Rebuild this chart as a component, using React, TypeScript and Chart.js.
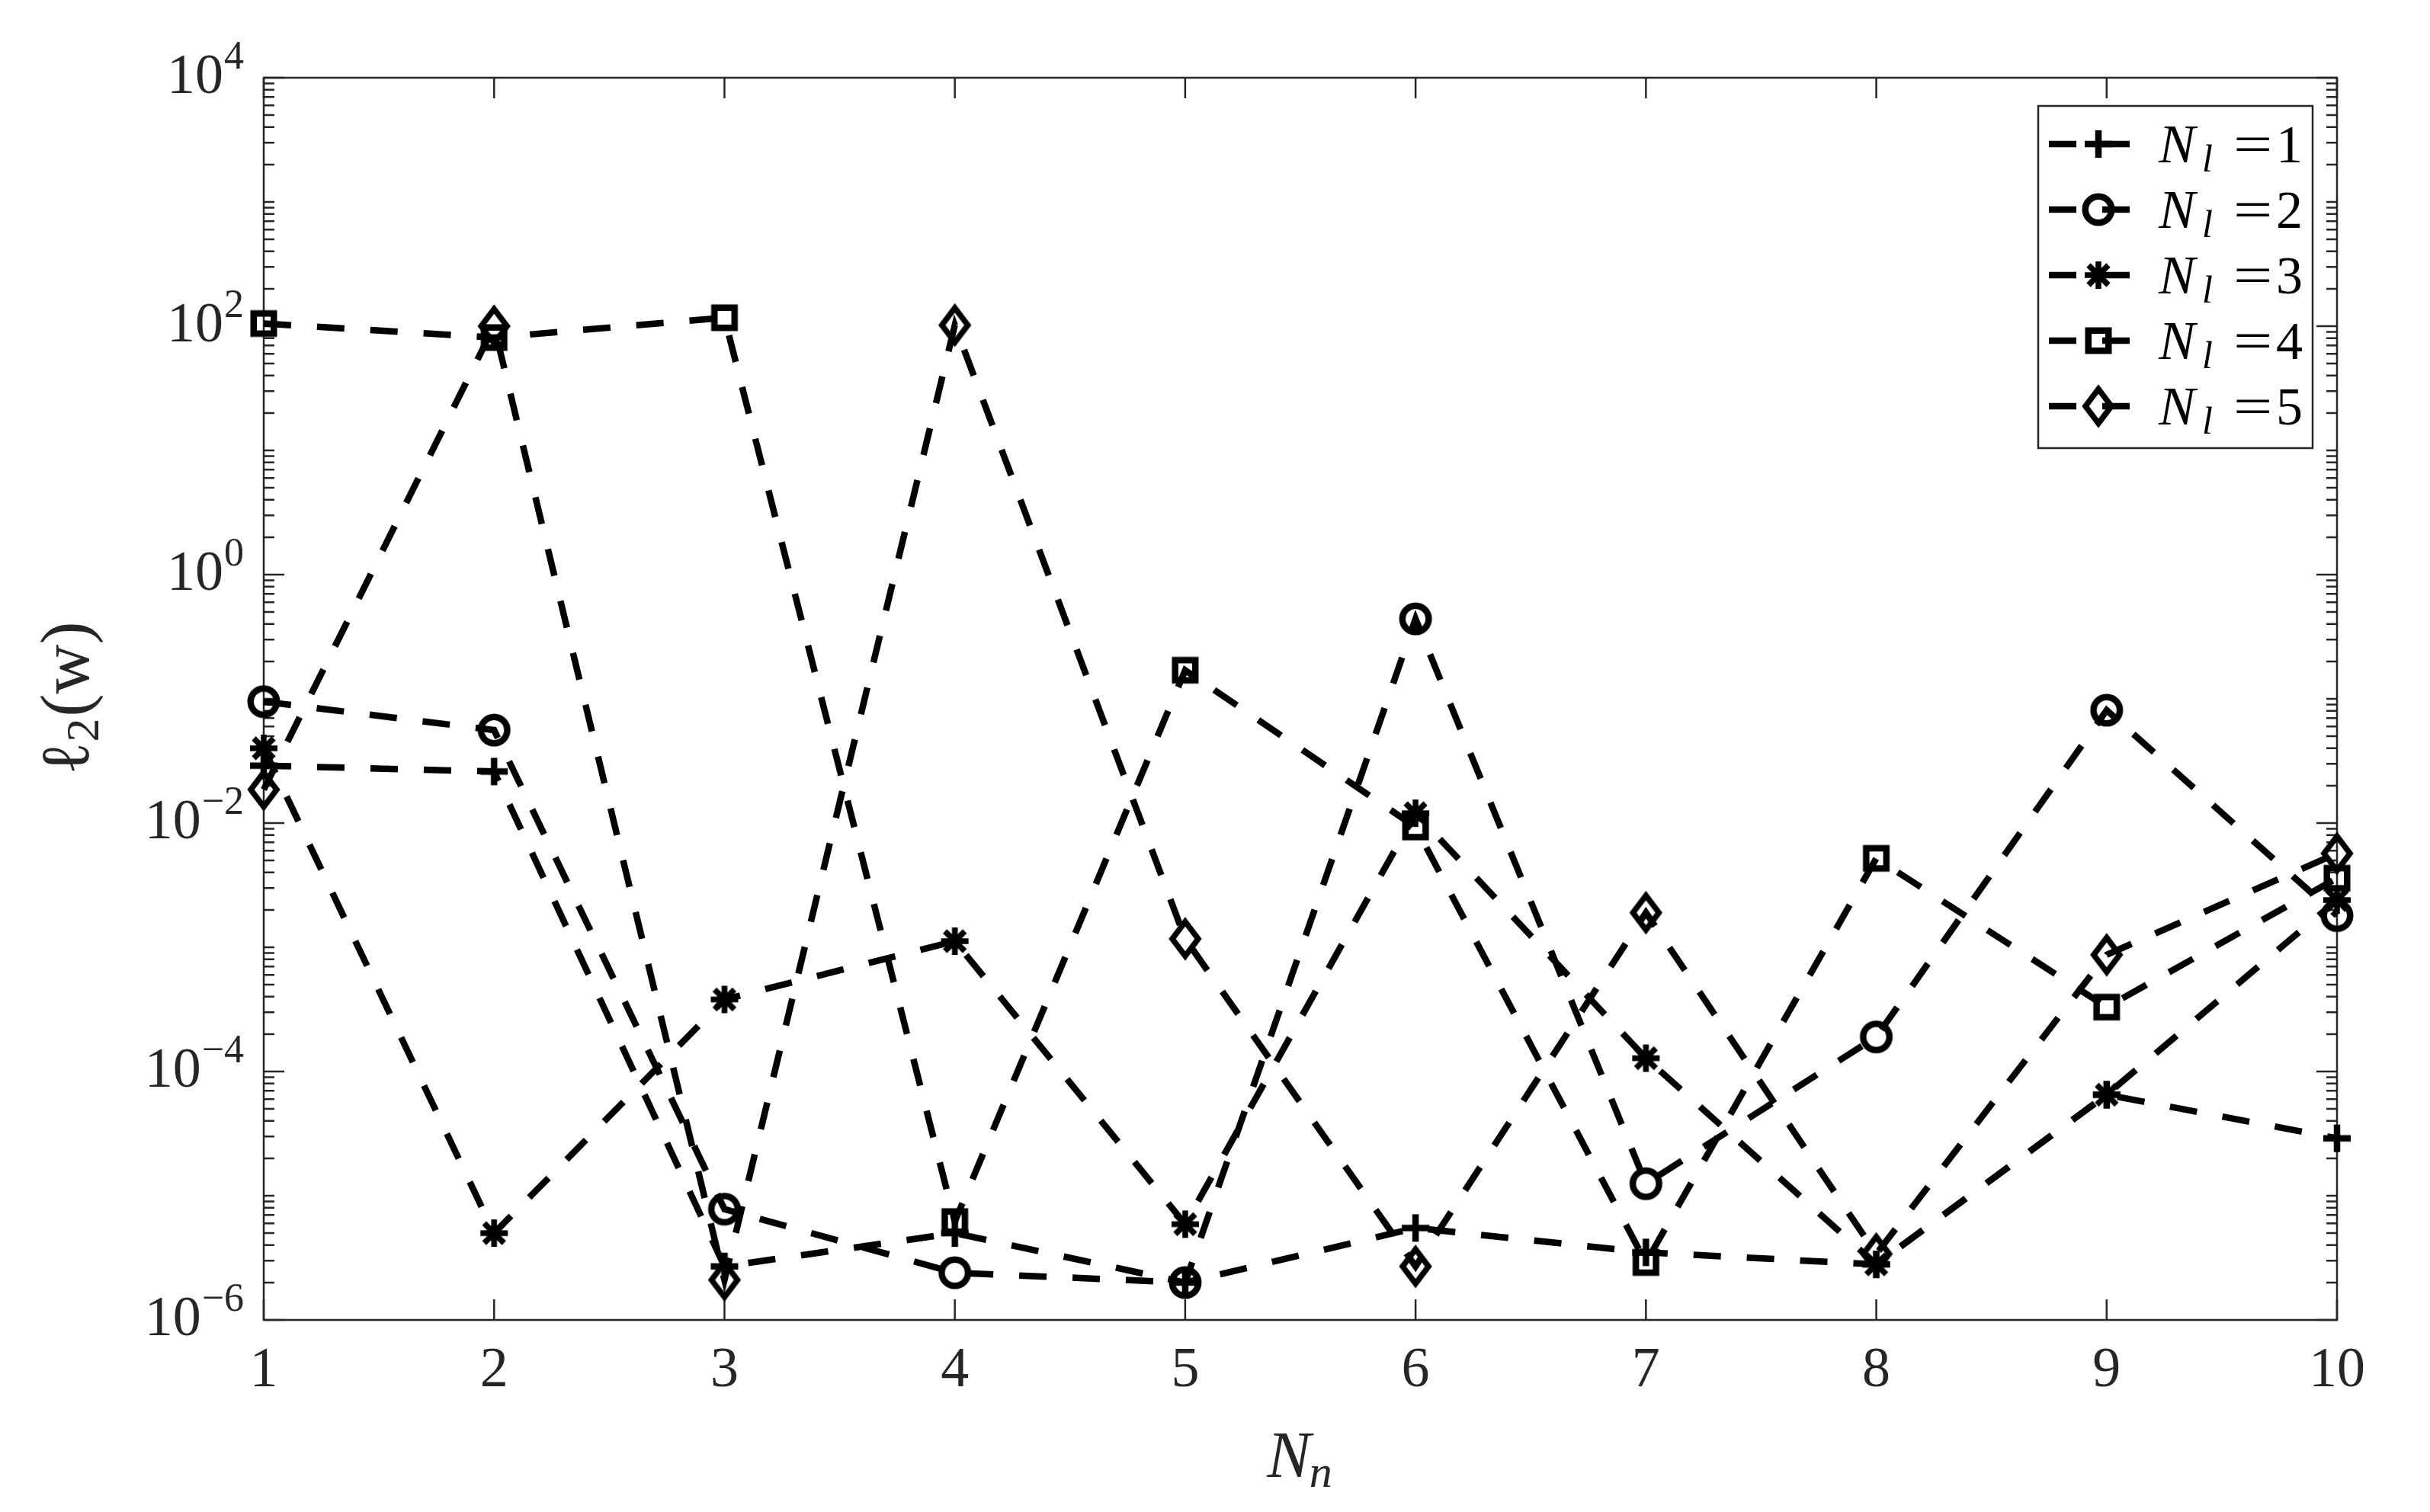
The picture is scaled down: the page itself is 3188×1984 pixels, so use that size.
import React, { useEffect, useRef } from 'react';
import { Chart, registerables } from 'chart.js';

Chart.register(...registerables);

// ---------------- data ----------------
const xValues = [1, 2, 3, 4, 5, 6, 7, 8, 9, 10];
const seriesNl1 = [0.029, 0.026, 2.7e-6, 5.0e-6, 2.0e-6, 5.5e-6, 3.5e-6, 2.8e-6, 6.5e-5, 2.9e-5];
const seriesNl2 = [0.095, 0.056, 7.8e-6, 2.4e-6, 2.0e-6, 0.44, 1.25e-5, 1.9e-4, 0.081, 1.8e-3];
const seriesNl3 = [0.04, 5.0e-6, 3.8e-4, 1.12e-3, 5.9e-6, 0.012, 1.28e-4, 2.8e-6, 6.5e-5, 2.4e-3];
const seriesNl4 = [105, 81, 117, 6.2e-6, 0.17, 0.0093, 2.9e-6, 5.2e-3, 3.3e-4, 3.6e-3];
const seriesNl5 = [0.0186, 100, 2.1e-6, 102, 1.17e-3, 2.7e-6, 1.9e-3, 3.4e-6, 8.7e-4, 5.7e-3];
const legendValues = ['1', '2', '3', '4', '5'];
const markerShapes = ['plus', 'circle', 'asterisk', 'square', 'diamond'];
const yTickExponents = [-6, -4, -2, 0, 2, 4];
const xTickLabels = ['1', '2', '3', '4', '5', '6', '7', '8', '9', '10'];
const xTitleMain = 'N';
const xTitleSub = 'n';
const yTitleMain = 'ℓ';
const yTitleSub = '2';
const yTitleRest = '(w)';

// ---------------- styles ----------------
const W = 3172;
const H = 1968;
const AXIS = '#262626';
const SERIF = '"Liberation Serif", "DejaVu Serif", serif';
const LINE_W = 8.5;
const DASH = [36, 34];

function makeMarker(shape: string): HTMLCanvasElement {
  const c = document.createElement('canvas');
  c.width = 72;
  c.height = 72;
  const ctx = c.getContext('2d') as CanvasRenderingContext2D;
  const m = 36;
  ctx.strokeStyle = '#000';
  ctx.lineWidth = LINE_W;
  ctx.lineCap = 'butt';
  ctx.lineJoin = 'miter';
  ctx.beginPath();
  if (shape === 'plus') {
    const h = 18;
    ctx.moveTo(m - h, m); ctx.lineTo(m + h, m);
    ctx.moveTo(m, m - h); ctx.lineTo(m, m + h);
  } else if (shape === 'circle') {
    ctx.arc(m, m, 17.25, 0, Math.PI * 2);
  } else if (shape === 'asterisk') {
    const h = 18;
    const d = 13;
    ctx.lineWidth = 7.5;
    ctx.moveTo(m - h, m); ctx.lineTo(m + h, m);
    ctx.moveTo(m, m - h); ctx.lineTo(m, m + h);
    ctx.moveTo(m - d, m - d); ctx.lineTo(m + d, m + d);
    ctx.moveTo(m - d, m + d); ctx.lineTo(m + d, m - d);
  } else if (shape === 'square') {
    const h = 13.25;
    ctx.rect(m - h, m - h, 2 * h, 2 * h);
  } else if (shape === 'diamond') {
    const a = 17;
    const b = 22.5;
    ctx.lineWidth = 7.5;
    ctx.moveTo(m, m - b);
    ctx.lineTo(m + a, m);
    ctx.lineTo(m, m + b);
    ctx.lineTo(m - a, m);
    ctx.closePath();
  }
  ctx.stroke();
  return c;
}

function drawYTickLabel(ctx: CanvasRenderingContext2D, exp: number, py: number) {
  const right = 312;
  const sup = exp < 0 ? '\u2212' + String(-exp) : String(exp);
  ctx.textAlign = 'left';
  ctx.textBaseline = 'alphabetic';
  ctx.font = `52px ${SERIF}`;
  const ws = ctx.measureText(sup).width;
  ctx.font = `74px ${SERIF}`;
  const wb = ctx.measureText('10').width;
  const baseY = py + 20;
  ctx.fillText('10', right - ws - wb - 1, baseY);
  ctx.font = `52px ${SERIF}`;
  ctx.fillText(sup, right - ws, baseY - 32);
}

function makeAxesPlugin(markers: HTMLCanvasElement[]) {
  return {
    id: 'matlabAxes',
    beforeDatasetsDraw(chart: any) {
      const { ctx, chartArea: a, scales } = chart;
      const xs = scales.x;
      const ys = scales.y;
      ctx.save();
      ctx.strokeStyle = AXIS;
      ctx.lineWidth = 2.5;
      ctx.lineCap = 'butt';
      ctx.beginPath();
      xValues.forEach((v) => {
        const px = xs.getPixelForValue(v);
        ctx.moveTo(px, a.bottom); ctx.lineTo(px, a.bottom - 27);
        ctx.moveTo(px, a.top); ctx.lineTo(px, a.top + 27);
      });
      for (let e = -6; e <= 4; e++) {
        for (let k = 1; k <= 9; k++) {
          if (e === 4 && k > 1) break;
          const v = k * Math.pow(10, e);
          const py = ys.getPixelForValue(v);
          const major = k === 1 && yTickExponents.includes(e);
          const len = major ? 27 : 14;
          ctx.moveTo(a.left, py); ctx.lineTo(a.left + len, py);
          ctx.moveTo(a.right, py); ctx.lineTo(a.right - len, py);
        }
      }
      ctx.stroke();
      ctx.strokeRect(a.left, a.top, a.right - a.left, a.bottom - a.top);

      ctx.fillStyle = AXIS;
      yTickExponents.forEach((e) => {
        drawYTickLabel(ctx, e, ys.getPixelForValue(Math.pow(10, e)));
      });

      // x title
      ctx.textBaseline = 'alphabetic';
      ctx.textAlign = 'left';
      ctx.font = `italic 86px ${SERIF}`;
      const wN = ctx.measureText(xTitleMain).width;
      ctx.font = `italic 60px ${SERIF}`;
      const wn = ctx.measureText(xTitleSub).width;
      const cx = (a.left + a.right) / 2;
      const x0 = cx - (wN + wn) / 2;
      ctx.font = `italic 86px ${SERIF}`;
      ctx.fillText(xTitleMain, x0, 1930);
      ctx.font = `italic 60px ${SERIF}`;
      ctx.fillText(xTitleSub, x0 + wN - 2, 1943);

      // y title (rotated)
      ctx.save();
      ctx.translate(108, (a.top + a.bottom) / 2);
      ctx.rotate(-Math.PI / 2);
      ctx.font = `90px ${SERIF}`;
      const w1 = ctx.measureText(yTitleMain).width;
      const w3 = ctx.measureText(yTitleRest).width;
      ctx.font = `62px ${SERIF}`;
      const w2 = ctx.measureText(yTitleSub).width;
      let tx = -(w1 + w2 + w3) / 2;
      ctx.font = `90px ${SERIF}`;
      ctx.fillText(yTitleMain, tx, 0);
      tx += w1;
      ctx.font = `62px ${SERIF}`;
      ctx.fillText(yTitleSub, tx, 13);
      tx += w2 + 2;
      ctx.font = `90px ${SERIF}`;
      ctx.fillText(yTitleRest, tx, 0);
      ctx.restore();
      ctx.restore();
    },
    afterDraw(chart: any) {
      const { ctx } = chart;
      ctx.save();
      const bx = 2666, by = 131, bw = 360, bh = 449;
      ctx.fillStyle = '#ffffff';
      ctx.fillRect(bx, by, bw, bh);
      ctx.strokeStyle = AXIS;
      ctx.lineWidth = 2.5;
      ctx.strokeRect(bx, by, bw, bh);
      const rows = [181, 267, 353, 439, 525];
      legendValues.forEach((val, i) => {
        const ry = rows[i];
        ctx.strokeStyle = '#000';
        ctx.lineWidth = LINE_W;
        ctx.setLineDash(DASH);
        ctx.beginPath();
        ctx.moveTo(2680, ry);
        ctx.lineTo(2786, ry);
        ctx.stroke();
        ctx.setLineDash([]);
        const mk = markers[i];
        if (mk) ctx.drawImage(mk, 2745 - mk.width / 2, ry - mk.height / 2);
        ctx.fillStyle = '#000';
        ctx.textAlign = 'left';
        ctx.textBaseline = 'alphabetic';
        ctx.font = `italic 72px ${SERIF}`;
        ctx.fillText('N', 2824, ry + 24);
        ctx.font = `italic 50px ${SERIF}`;
        ctx.fillText('l', 2881, ry + 36);
        ctx.font = `70px ${SERIF}`;
        ctx.save();
        ctx.translate(2922, ry + 24);
        ctx.scale(1.3, 1);
        ctx.fillText('=', 0, 0);
        ctx.restore();
        ctx.fillText(val, 2978, ry + 24);
      });
      ctx.restore();
    },
  };
}

export default function App() {
  const ref = useRef<HTMLCanvasElement>(null);
  useEffect(() => {
    const canvas = ref.current;
    if (!canvas) return;
    const markers = markerShapes.map(makeMarker);
    const all = [seriesNl1, seriesNl2, seriesNl3, seriesNl4, seriesNl5];
    const datasets = all.map((s, i) => ({
      label: 'N_l =' + legendValues[i],
      data: s.map((y, j) => ({ x: xValues[j], y })),
      borderColor: '#000',
      backgroundColor: '#000',
      borderWidth: LINE_W,
      borderDash: DASH,
      borderCapStyle: 'butt',
      tension: 0,
      fill: false,
      pointStyle: markers[i],
      pointRadius: 20,
      pointHoverRadius: 20,
      clip: false,
      order: 5 - i,
    }));
    const chart: any = new Chart(canvas, {
      type: 'line',
      data: { datasets },
      options: {
        animation: false,
        responsive: false,
        devicePixelRatio: 1,
        events: [],
        layout: { padding: { top: 94, right: 114, bottom: 0, left: 0 } },
        plugins: { legend: { display: false }, tooltip: { enabled: false } },
        scales: {
          x: {
            type: 'linear',
            min: 1,
            max: 10,
            grid: { display: false, drawTicks: false },
            border: { display: false },
            ticks: {
              stepSize: 1,
              autoSkip: false,
              maxRotation: 0,
              padding: 23,
              color: AXIS,
              font: { family: SERIF, size: 74 },
              callback: (v: any) => xTickLabels[Number(v) - 1] ?? '',
            },
            afterFit: (s: any) => { s.height = 244; },
          },
          y: {
            type: 'logarithmic',
            min: 1e-6,
            max: 1e4,
            grid: { display: false, drawTicks: false },
            border: { display: false },
            ticks: { display: false },
            afterFit: (s: any) => { s.width = 338; },
          },
        },
      },
      plugins: [makeAxesPlugin(markers)],
    } as any);
    return () => chart.destroy();
  }, []);
  return (
    <div style={{ width: W, height: H }}>
      <canvas ref={ref} width={W} height={H} style={{ display: 'block', width: W, height: H }} />
    </div>
  );
}
